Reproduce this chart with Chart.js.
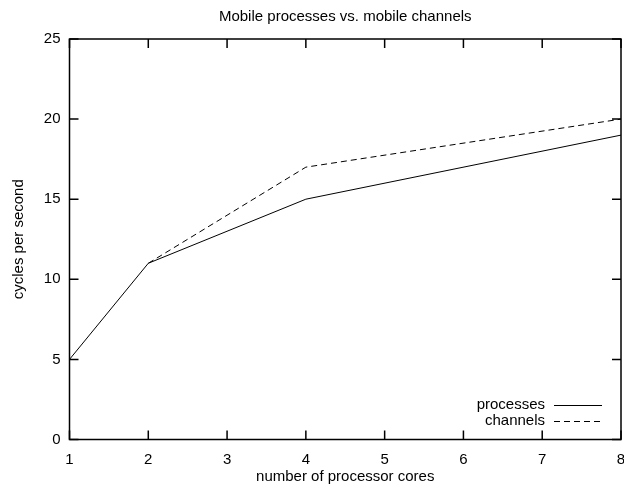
<!DOCTYPE html>
<html>
<head>
<meta charset="utf-8">
<script src="https://cdn.jsdelivr.net/npm/chart.js@4"></script>
<style>
html,body{margin:0;padding:0;background:#fff;}
#wrap{width:624px;height:486px;}
</style>
</head>
<body>
<div id="wrap"><canvas id="c" width="624" height="486"></canvas></div>
<script>
const titleText = "Mobile processes vs. mobile channels";
const xTitle = "number of processor cores";
const yTitle = "cycles per second";
const processesX = [1, 2, 4, 8];
const processesY = [5, 11, 15, 19];
const channelsX = [2, 4, 8];
const channelsY = [11, 17, 20];
const seriesLabels = ["processes", "channels"];
const xMin = 1, xMax = 8, xStep = 1;
const yMin = 0, yMax = 25, yStep = 5;

const FONT = "'Liberation Sans', Arial, Helvetica, sans-serif";
const FS = 15;

const framePlugin = {
  id: 'frame',
  afterDatasetsDraw(chart) {
    const ctx = chart.ctx, a = chart.chartArea;
    const xs = chart.scales.x, ys = chart.scales.y;
    const TL = 9;
    ctx.save();
    ctx.strokeStyle = '#000';
    ctx.lineWidth = 1.5;
    ctx.beginPath();
    xs.ticks.forEach(t => {
      const px = xs.getPixelForValue(t.value);
      ctx.moveTo(px, a.bottom); ctx.lineTo(px, a.bottom - TL);
      ctx.moveTo(px, a.top); ctx.lineTo(px, a.top + TL);
    });
    ys.ticks.forEach(t => {
      const py = ys.getPixelForValue(t.value);
      ctx.moveTo(a.left, py); ctx.lineTo(a.left + TL, py);
      ctx.moveTo(a.right, py); ctx.lineTo(a.right - TL, py);
    });
    ctx.stroke();
    ctx.strokeRect(a.left, a.top, a.right - a.left, a.bottom - a.top);
    // legend inside bottom-right
    ctx.font = FS + "px " + FONT;
    ctx.fillStyle = '#000';
    ctx.textAlign = 'right';
    ctx.textBaseline = 'middle';
    const textRight = 545, lineL = 554, lineR = 602;
    const rows = [405, 421];
    chart.data.datasets.forEach((ds, i) => {
      const y = rows[i];
      ctx.fillText(ds.label, textRight, y);
      ctx.save();
      ctx.lineWidth = ds.borderWidth;
      ctx.strokeStyle = ds.borderColor;
      ctx.setLineDash(ds.borderDash || []);
      ctx.beginPath();
      ctx.moveTo(lineL, y + 0.5); ctx.lineTo(lineR, y + 0.5);
      ctx.stroke();
      ctx.restore();
    });
    ctx.restore();
  }
};

new Chart(document.getElementById('c'), {
  type: 'line',
  data: {
    datasets: [
      {
        label: seriesLabels[0],
        data: processesX.map((x, i) => ({x: x, y: processesY[i]})),
        borderColor: '#000', borderWidth: 1, pointRadius: 0, fill: false, tension: 0
      },
      {
        label: seriesLabels[1],
        data: channelsX.map((x, i) => ({x: x, y: channelsY[i]})),
        borderColor: '#000', borderWidth: 1, borderDash: [6, 4], pointRadius: 0, fill: false, tension: 0
      }
    ]
  },
  options: {
    responsive: false,
    animation: false,
    layout: {padding: {left: 0, right: 3, top: 0, bottom: 0}},
    plugins: {
      legend: {display: false},
      tooltip: {enabled: false},
      title: {
        display: true, text: titleText, fullSize: false, color: '#000',
        font: {family: FONT, size: FS, weight: 'normal'},
        padding: {top: 8, bottom: 13}
      }
    },
    scales: {
      x: {
        type: 'linear', min: xMin, max: xMax,
        grid: {display: false}, border: {display: false},
        ticks: {stepSize: xStep, color: '#000', font: {family: FONT, size: FS}, padding: 3, maxRotation: 0},
        title: {display: true, text: xTitle, color: '#000', font: {family: FONT, size: FS}, padding: {top: 0, bottom: 0}},
        afterFit(s) { s.height = 46.5; s.paddingLeft = 0; s.paddingRight = 0; }
      },
      y: {
        type: 'linear', min: yMin, max: yMax,
        grid: {display: false}, border: {display: false},
        ticks: {stepSize: yStep, color: '#000', font: {family: FONT, size: FS}, padding: 1},
        title: {display: true, text: yTitle, color: '#000', font: {family: FONT, size: FS}, padding: {top: 10, bottom: 0}},
        afterFit(s) { s.width = 69.5; s.paddingTop = 0; s.paddingBottom = 0; }
      }
    }
  },
  plugins: [framePlugin]
});
</script>
</body>
</html>
